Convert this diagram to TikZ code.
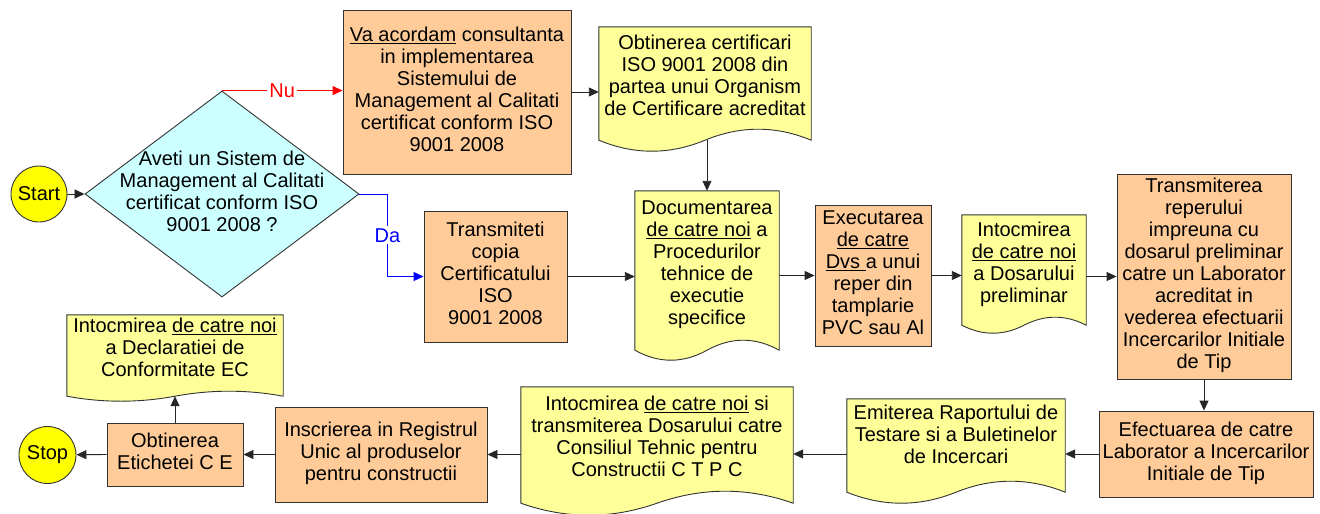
\documentclass[tikz,border=0pt]{standalone}
\usepackage{fontspec}
\setmainfont{Liberation Sans}
\usetikzlibrary{shapes.geometric,arrows.meta,calc,backgrounds}
\definecolor{boxor}{HTML}{FFCC99}
\definecolor{docy}{HTML}{FFFF99}
\definecolor{diac}{HTML}{CCFFFF}
\definecolor{termy}{HTML}{FFFF00}
\definecolor{edgec}{HTML}{333333}
\definecolor{nured}{HTML}{FF0000}
\definecolor{dablue}{HTML}{0000FF}
\newcommand\T[1]{\makebox[0pt]{\begin{tabular}{@{}c@{}}#1\end{tabular}}}
\newcommand\U[1]{\underline{#1}}
\tikzset{
 every node/.style={font=\fontsize{20}{22}\selectfont, inner sep=0pt},
 obox/.style={rectangle, draw=edgec, line width=0.9pt, fill=boxor},
 doctext/.style={rectangle},
 docline/.style={draw=edgec, line width=0.9pt, fill=docy},
 dec/.style={diamond, draw=edgec, line width=0.9pt, fill=diac},
 term/.style={circle, draw=edgec, line width=0.9pt, fill=termy, minimum size=56pt},
 arr/.style={line width=0.9pt, -{Triangle[length=10pt,width=9pt]}},
 lbl/.style={fill=white, inner sep=2pt},
}
\newcommand\docwave[3]{%
  \begin{pgfonlayer}{background}
  \path[docline] ($(#1.south west)+(0,#2)$) -- (#1.north west) -- (#1.north east) -- ($(#1.south east)+(0,#2)$)
   .. controls ($(#1.south east)!1/6!(#1.south west)+(0,#2-4*#3/3)$) and ($(#1.south east)!1/3!(#1.south west)+(0,#2-4*#3/3)$) .. ($(#1.south)+(0,#2)$)
   .. controls ($(#1.south east)!2/3!(#1.south west)+(0,#2+4*#3/3)$) and ($(#1.south east)!5/6!(#1.south west)+(0,#2+4*#3/3)$) .. ($(#1.south west)+(0,#2)$) -- cycle;
  \end{pgfonlayer}
  \coordinate (#1-bot) at ($(#1.south)+(0,#2)$);
}
\begin{document}
\begin{tikzpicture}[x=1pt,y=-1pt]
\begin{pgfonlayer}{background}
\fill[white] (0,0) rectangle (1320,514);
\end{pgfonlayer}
\useasboundingbox (0,0) rectangle (1320,514);

% top / middle row
\node[term] (start) at (39,194) {Start};
\node[dec, minimum width=274pt, minimum height=206pt] (dia) at (222,194)
  {\T{Aveti un Sistem de\\Management al Calitati\\certificat conform ISO\\9001 2008 ?}};
\node[obox, minimum width=228pt, minimum height=164pt] (b1) at (457,92)
  {\T{\U{Va acordam} consultanta\\in implementarea\\Sistemului de\\Management al Calitati\\certificat conform ISO\\9001 2008}};
\node[doctext, minimum width=212pt, minimum height=102pt] (d1) at (705,78)
  {\T{Obtinerea certificari\\ISO 9001 2008 din\\partea unui Organism\\de Certificare acreditat}};
\docwave{d1}{11}{11}
\node[obox, minimum width=143pt, minimum height=131pt] (b2) at (495.5,276.5)
  {\T{Transmiteti\\copia\\Certificatului\\ISO\\9001 2008}};
\node[doctext, minimum width=144pt, minimum height=148pt] (d2) at (707,265)
  {\T{Documentarea\\\U{de catre noi} a\\Procedurilor\\tehnice de\\executie\\specifice}};
\docwave{d2}{11}{10}
\node[obox, minimum width=116pt, minimum height=141pt] (b3) at (873,275.5)
  {\T{Executarea\\\U{de catre}\\\U{Dvs }a unui\\reper din\\tamplarie\\PVC sau Al}};
\node[doctext, minimum width=124pt, minimum height=100pt] (d3) at (1024,265)
  {\T{Intocmirea\\\U{de catre noi}\\a Dosarului\\preliminar}};
\docwave{d3}{10}{8}
\node[obox, minimum width=174pt, minimum height=205pt] (b4) at (1204,276.5)
  {\T{Transmiterea\\reperului\\impreuna cu\\dosarul preliminar\\catre un Laborator\\acreditat in\\vederea efectuarii\\Incercarilor Initiale\\de Tip}};

% bottom row
\node[obox, minimum width=214pt, minimum height=86pt] (b5) at (1206,454)
  {\T{Efectuarea de catre\\Laborator a Incercarilor\\Initiale de Tip}};
\node[doctext, minimum width=218pt, minimum height=76pt] (d4) at (956,437)
  {\T{Emiterea Raportului de\\Testare si a Buletinelor\\de Incercari}};
\docwave{d4}{17}{11}
\node[doctext, minimum width=272pt, minimum height=104pt] (d5) at (657,439)
  {\T{Intocmirea \U{de catre noi} si\\transmiterea Dosarului catre\\Consiliul Tehnic pentru\\Constructii C T P C}};
\docwave{d5}{12}{12}
\node[obox, minimum width=212pt, minimum height=95pt] (b6) at (381,454.5)
  {\T{Inscrierea in Registrul\\Unic al produselor\\pentru constructii}};
\node[obox, minimum width=136pt, minimum height=63pt] (b7) at (175,454.5)
  {\T{Obtinerea\\Etichetei C E}};
\node[doctext, minimum width=216pt, minimum height=70pt] (d6) at (175,350)
  {\T{Intocmirea \U{de catre noi}\\a Declaratiei de\\Conformitate EC}};
\docwave{d6}{11}{5}
\node[term, minimum size=57pt] (stop) at (47.5,455) {Stop};

% connectors
\draw[arr, black!85] (start) -- (dia);
\draw[arr, color=nured] (dia.north) -- node[lbl] {Nu} (dia.north -| b1.west);
\draw[arr, color=dablue] (dia.east) -- ++(28,0) |- node[lbl, pos=0.25] {Da} (b2.west);
\draw[arr, black!85] (b1.east) -- (b1.east -| d1.west);
\draw[arr, black!85] (d2.north |- d1-bot) -- (d2.north);
\draw[arr, black!85] (b2.east) -- (b2.east -| d2.west);
\draw[arr, black!85] (d2.east |- b3.west) -- (b3.west);
\draw[arr, black!85] (b3.east) -- (b3.east -| d3.west);
\draw[arr, black!85] (d3.east |- b4.west) -- (b4.west);
\draw[arr, black!85] (b4.south) -- (b4.south |- b5.north);
\draw[arr, black!85] (b5.west) -- (b5.west -| d4.east);
\draw[arr, black!85] (d4.west |- b5.west) -- (d5.east |- b5.west);
\draw[arr, black!85] (d5.west |- b6.east) -- (b6.east);
\draw[arr, black!85] (b6.west) -- (b6.west -| b7.east);
\draw[arr, black!85] (b7.west) -- (stop);
\draw[arr, black!85] (b7.north) -- (b7.north |- d6-bot);
\end{tikzpicture}
\end{document}
